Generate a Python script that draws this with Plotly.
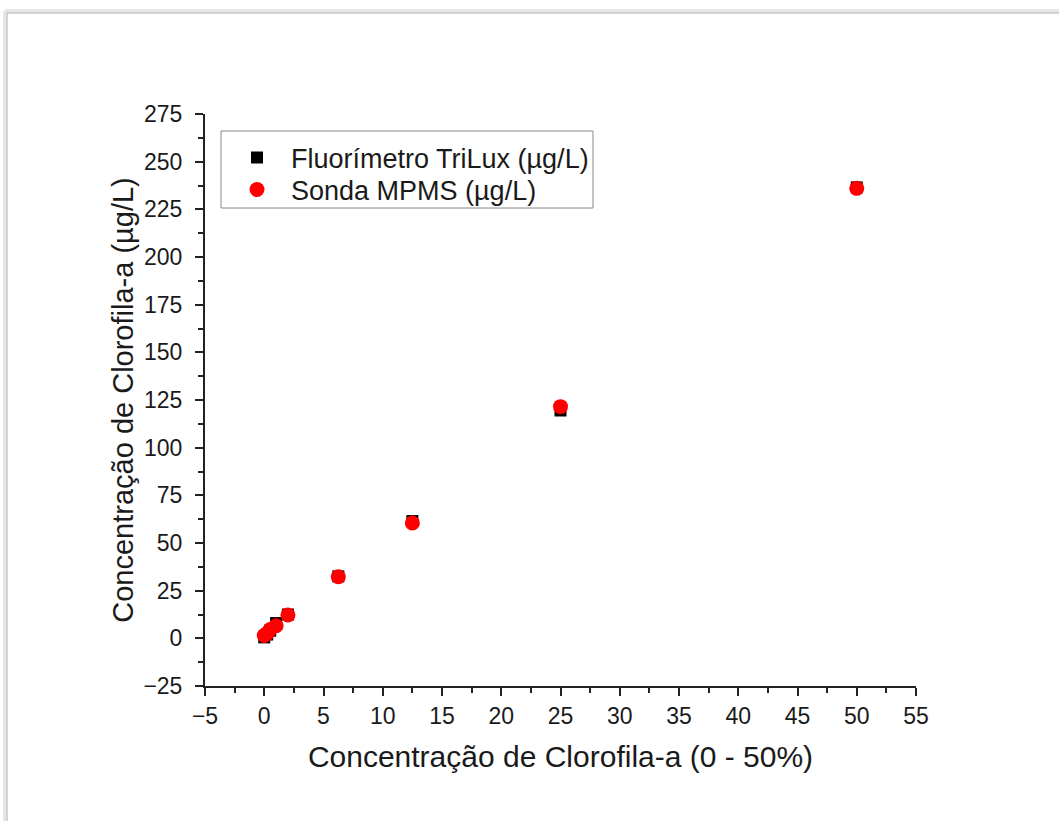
import plotly.graph_objects as go

# Concentração de clorofila-a: diluições (%) e leituras dos dois instrumentos
diluicao = [0, 0.25, 0.5, 1, 2, 6.25, 12.5, 25, 50]
fluorimetro_trilux = [0.5, 2.0, 4.0, 8.0, 12.5, 32.5, 61.5, 119.5, 236.5]
sonda_mpms = [1.5, 2.6, 4.6, 6.6, 12.2, 32.3, 60.5, 121.5, 236.0]

x_ticks = list(range(-5, 60, 5))
y_ticks = list(range(-25, 300, 25))

FONT = "Liberation Sans, Arial, sans-serif"

# Área do gráfico em pixels
L, T = 205, 114
W, H = 711, 572


def px_x(p):
    return (p - L) / W


def px_y(p):
    return (T + H - p) / H


fig = go.Figure()
fig.add_trace(go.Scatter(
    x=diluicao, y=fluorimetro_trilux, mode="markers",
    name="Fluorímetro TriLux (µg/L)",
    marker=dict(symbol="square", size=12, color="black"),
    legend="legend", showlegend=True,
))
fig.add_trace(go.Scatter(
    x=diluicao, y=sonda_mpms, mode="markers",
    name="Sonda MPMS (µg/L)",
    marker=dict(symbol="circle", size=15, color="#ff0000"),
    legend="legend2", showlegend=True,
))

axis_common = dict(
    showline=True, linecolor="#222", linewidth=2,
    ticks="outside", ticklen=8, tickwidth=2, tickcolor="#222",
    showgrid=False, zeroline=False, mirror=False,
    tickfont=dict(family=FONT, size=23, color="#1a1a1a"),
)

fig.update_xaxes(
    range=[-5, 55], tickvals=x_ticks,
    minor=dict(dtick=2.5, tick0=-5, ticks="outside", ticklen=5, tickwidth=2, tickcolor="#222"),
    title=dict(text="Concentração de Clorofila-a (0 - 50%)",
               font=dict(family=FONT, size=30, color="#1a1a1a"), standoff=18),
    **axis_common,
)
fig.update_yaxes(
    range=[-25, 275], tickvals=y_ticks,
    minor=dict(dtick=12.5, tick0=-25, ticks="outside", ticklen=5, tickwidth=2, tickcolor="#222"),
    ticklabelstandoff=8,
    title=dict(text="Concentração de Clorofila-a (µg/L)",
               font=dict(family=FONT, size=29, color="#1a1a1a"), standoff=1),
    **axis_common,
)

# Moldura cinza com sombra ao redor da figura + caixa da legenda
shapes = []
for off, col, w in [(0, "#e6e6e6", 4), (2, "#c8c8c8", 1.5)]:
    shapes.append(dict(type="line", xref="paper", yref="paper",
                       x0=px_x(5 + off), x1=px_x(5 + off), y0=px_y(11 + off), y1=px_y(830),
                       line=dict(color=col, width=w)))
    shapes.append(dict(type="line", xref="paper", yref="paper",
                       x0=px_x(5 + off), x1=px_x(1070), y0=px_y(11 + off), y1=px_y(11 + off),
                       line=dict(color=col, width=w)))
shapes.append(dict(type="rect", xref="paper", yref="paper",
                   x0=px_x(221), x1=px_x(593), y0=px_y(208), y1=px_y(131),
                   line=dict(color="#888", width=1), fillcolor="rgba(0,0,0,0)", layer="above"))

legend_common = dict(
    xanchor="left", yanchor="middle", borderwidth=0, bgcolor="rgba(0,0,0,0)",
    font=dict(family=FONT, size=27, color="#1a1a1a"),
    itemwidth=58, tracegroupgap=0, visible=True,
)

fig.update_layout(
    width=1059, height=821,
    margin=dict(l=L, r=1059 - L - W, t=T, b=821 - T - H),
    plot_bgcolor="white", paper_bgcolor="white",
    showlegend=True,
    shapes=shapes,
    legend=dict(x=px_x(223), y=px_y(158), **legend_common),
    legend2=dict(x=px_x(223), y=px_y(190), **legend_common),
)

fig.write_html("out.html")
